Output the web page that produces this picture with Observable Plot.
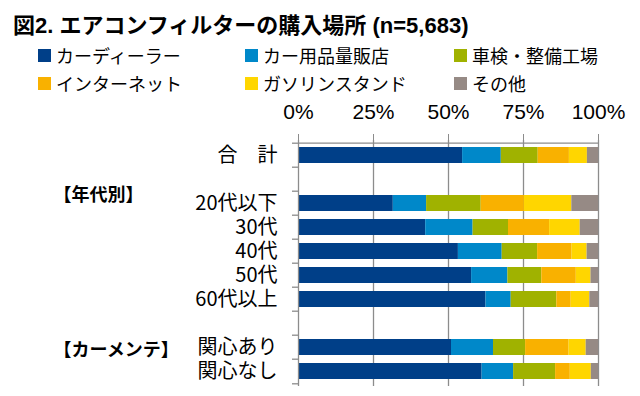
<!DOCTYPE html>
<html><head><meta charset="utf-8">
<script src="https://cdn.jsdelivr.net/npm/d3@7"></script>
<script src="https://cdn.jsdelivr.net/npm/@observablehq/plot@0.6"></script>
<style>
body{margin:0;background:#fff;}
#wrap{position:relative;width:640px;height:396px;overflow:hidden;background:#fff;}
#head{position:relative;height:95px;width:640px;}
.title{position:absolute;left:13px;top:14px;font:bold 22px/24px "Liberation Sans","Noto Sans CJK JP",sans-serif;color:#000;white-space:nowrap;}
.leg{position:absolute;display:flex;align-items:center;font:18px/20px "Noto Sans CJK JP",sans-serif;color:#000;white-space:nowrap;}
.sw{width:13px;height:13px;margin-right:5px;flex:none;}
</style>
</head><body>
<div id="wrap"><div id="head"></div><div id="chart"></div></div>
<script>
const titleText = "図2. エアコンフィルターの購入場所 (n=5,683)";
const seriesNames = ["カーディーラー","カー用品量販店","車検・整備工場","インターネット","ガソリンスタンド","その他"];
const colors = ["#003f88","#0088c9","#a0b200","#f9b100","#ffd600","#968a85"];
const rowLabels = ["合　計","20代以下","30代","40代","50代","60代以上","関心あり","関心なし"];
const yDomain = ["合　計","gap1","20代以下","30代","40代","50代","60代以上","gap2","関心あり","関心なし"];
const groupLabels = ["【年代別】","【カーメンテ】"];
const groupRows = ["20代以下","関心あり"];
const xTicks = [0,25,50,75,100];

const dealer     = [54.7, 31.6, 42.4, 53.3, 57.7, 62.5, 51.0, 61.2];
const carShop    = [12.9, 11.1, 15.8, 14.6, 12.1,  8.4, 14.0, 10.5];
const inspection = [12.3, 18.2, 11.8, 11.8, 11.3, 15.2, 10.7, 14.0];
const internet   = [10.4, 14.4, 13.7, 11.5, 11.5,  4.8, 14.5,  4.9];
const gasStation = [ 6.0, 15.8, 10.2,  5.0,  4.9,  6.2,  5.7,  7.0];
const other      = [ 3.7,  8.9,  6.1,  3.8,  2.5,  2.9,  4.1,  2.4];
const seriesValues = [dealer, carShop, inspection, internet, gasStation, other];

const data = [];
rowLabels.forEach((r, i) => {
  seriesNames.forEach((s, j) => data.push({row: r, series: s, value: seriesValues[j][i]}));
});

// header
const head = document.getElementById("head");
const t = document.createElement("div");
t.className = "title"; t.textContent = titleText; head.appendChild(t);
const colX = [38, 245, 454];
const rowTop = [45, 73];
seriesNames.forEach((s, j) => {
  const d = document.createElement("div");
  d.className = "leg";
  d.style.left = colX[j % 3] + "px";
  d.style.top = rowTop[Math.floor(j / 3)] + "px";
  const sw = document.createElement("span");
  sw.className = "sw"; sw.style.background = colors[j];
  d.appendChild(sw);
  d.appendChild(document.createTextNode(s));
  head.appendChild(d);
});

const H = 301, MT = 45, MB = 10;
const step = (H - MT - MB) / yDomain.length;
const gray = "#8c8c8c";

const plot = Plot.plot({
  width: 640, height: H,
  marginTop: MT, marginBottom: MB, marginLeft: 298, marginRight: 42,
  style: {fontFamily: '"Noto Sans CJK JP", sans-serif', color: "#000", background: "#fff", overflow: "visible"},
  x: {domain: [0, 100]},
  y: {domain: yDomain, paddingInner: 0.33, paddingOuter: 0.165},
  color: {domain: seriesNames, range: colors},
  marks: [
    Plot.ruleX(xTicks.slice(1), {stroke: gray, strokeWidth: 1.3}),
    Plot.barX(data, {y: "row", x: "value", fill: "series"}),
    Plot.ruleY([yDomain[0]], {dy: -step / 2, stroke: gray, strokeWidth: 1.3}),
    Plot.ruleX([0], {stroke: gray, strokeWidth: 1.3}),
    Plot.ruleY(yDomain, {x1: -2, x2: 0, dy: -step / 2, stroke: gray, strokeWidth: 1.3}),
    Plot.ruleY([yDomain[yDomain.length - 1]], {x1: -2, x2: 0, dy: step / 2, stroke: gray, strokeWidth: 1.3}),
    Plot.axisX({anchor: "top", ticks: xTicks, tickFormat: d => d + "%", tickSize: 7, tickPadding: 15,
      stroke: gray, fill: "#000", fontSize: 21, fontFamily: '"Liberation Sans", Arial, sans-serif', label: null}),
    Plot.axisY({tickSize: 0, tickPadding: 21, fontSize: 20, fill: "#000",
      tickFormat: d => d.startsWith("gap") ? "" : d, label: null}),
    Plot.text([groupLabels[0]], {y: [groupRows[0]], x: 0, dx: -245, dy: -8, text: d => d,
      textAnchor: "start", fontWeight: "bold", fontSize: 18, fill: "#000"}),
    Plot.text([groupLabels[1]], {y: [groupRows[1]], x: 0, dx: -245, dy: 3, text: d => d,
      textAnchor: "start", fontWeight: "bold", fontSize: 18, fill: "#000"})
  ]
});
document.getElementById("chart").appendChild(plot);
</script>
</body></html>
